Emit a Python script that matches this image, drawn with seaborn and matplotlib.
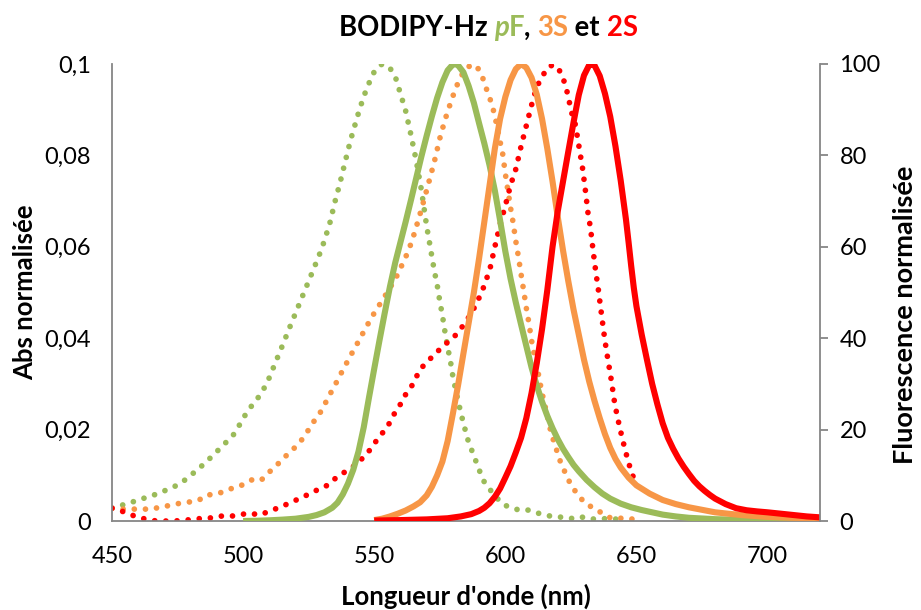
import numpy as np
import pandas as pd
import matplotlib
matplotlib.use("Agg")
import matplotlib.pyplot as plt
import seaborn as sns
from matplotlib.offsetbox import TextArea, HPacker, AnnotationBbox

# ---------------- data ----------------
# pF absorption (left axis)
pF_abs_nm = [450, 452, 456, 460, 464, 467, 470, 474, 477, 480, 483, 486, 489, 491, 494, 497,
             500, 503, 506, 509, 512, 515, 518, 521, 524, 527, 530, 533, 535, 537, 539, 541,
             544, 546, 548, 550, 552, 553, 555, 556, 558, 560, 562, 564, 566, 568, 570, 571,
             572, 573, 574, 575, 576, 577, 578, 579, 580, 582, 584, 586, 588, 590, 592, 594,
             596, 599, 602, 606, 609, 612, 615, 619, 623, 626, 629, 632, 636, 639, 643]
pF_abs = [0.0028, 0.0032, 0.0038, 0.0046, 0.0053, 0.0059, 0.0066, 0.0076, 0.0086, 0.0100,
          0.0114, 0.0130, 0.0146, 0.0158, 0.0175, 0.0193, 0.0225, 0.0250, 0.0272, 0.0300,
          0.0342, 0.0384, 0.0427, 0.0469, 0.0511, 0.0553, 0.0596, 0.0650, 0.0698, 0.0741,
          0.0788, 0.0834, 0.0893, 0.0929, 0.0958, 0.0983, 0.0995, 0.1000, 0.0995, 0.0991,
          0.0973, 0.0935, 0.0897, 0.0845, 0.0789, 0.0724, 0.0645, 0.0612, 0.0578, 0.0545,
          0.0517, 0.0481, 0.0450, 0.0413, 0.0380, 0.0352, 0.0316, 0.0262, 0.0214, 0.0172,
          0.0143, 0.0112, 0.0085, 0.0070, 0.0055, 0.0037, 0.0029, 0.0023, 0.0024, 0.0018,
          0.0013, 0.0009, 0.0008, 0.0005, 0.0009, 0.0004, 0.0005, 0.0005, 0.0004]

# 3S absorption (left axis)
S3_abs_nm = [450, 453, 458, 462, 465, 469, 472, 476, 480, 483, 486, 489, 492, 495, 499, 501,
             504, 507, 510, 512, 515, 517, 520, 523, 525, 527, 529, 531, 533, 535, 538, 541,
             544, 547, 550, 553, 556, 559, 561.5, 563, 565, 567, 569, 571, 573, 575, 577, 579,
             581, 583, 585, 587, 589, 591, 593, 595, 597, 598, 599, 600, 601, 602, 603, 604,
             605, 606, 607, 608, 609, 610, 611, 612, 613, 614, 615, 616, 617, 618, 619, 620,
             621.6, 623.4, 625.3, 627.6, 630, 633.6, 637, 640, 644, 647, 650]
S3_abs = [0.0028, 0.0026, 0.0026, 0.0026, 0.0026, 0.0031, 0.0034, 0.0039, 0.0042, 0.0045,
          0.0057, 0.0058, 0.0063, 0.0070, 0.0077, 0.0083, 0.0092, 0.0090, 0.0107, 0.0119,
          0.0133, 0.0147, 0.0162, 0.0182, 0.0200, 0.0218, 0.0233, 0.0254, 0.0276, 0.0297,
          0.0330, 0.0362, 0.0393, 0.0425, 0.0455, 0.0482, 0.0510, 0.0540, 0.0572, 0.0590,
          0.0624, 0.0662, 0.0703, 0.0745, 0.0788, 0.0837, 0.0878, 0.0913, 0.0946, 0.0972,
          0.0990, 0.0998, 0.0996, 0.0976, 0.0942, 0.0910, 0.0860, 0.0830, 0.0803, 0.0760,
          0.0722, 0.0685, 0.0652, 0.0612, 0.0578, 0.0540, 0.0504, 0.0466, 0.0433, 0.0395,
          0.0365, 0.0341, 0.0309, 0.0280, 0.0255, 0.0230, 0.0204, 0.0182, 0.0168, 0.0145,
          0.0121, 0.0099, 0.0075, 0.0059, 0.0041, 0.0028, 0.0017, 0.0007, 0.0006, 0.0006,
          0.0002]

# 2S absorption (left axis)
S2_abs_nm = [450, 451.5, 455, 458.5, 461.5, 465, 469, 473, 477, 481, 485, 488.5, 492, 496,
             500, 503, 506, 509.5, 513, 516, 519.5, 523, 526.5, 529, 532.5, 535.5, 539, 542,
             544.5, 547, 549.5, 552, 555, 557, 559.5, 561.5, 564, 566, 568, 571, 574, 576.5,
             579.5, 582.5, 584.5, 587, 589, 591, 592.5, 594, 596, 598, 600, 602, 604, 606,
             608, 610, 612, 614, 616, 618, 620, 622, 624, 625, 626.5, 627.5, 628.5, 629.5,
             630.5, 631.5, 632.5, 633.5, 634.5, 635.5, 636.5, 637.5, 638.5, 639.5, 640.5,
             641.5, 642.5, 643.5, 644.5, 645.5, 646.5, 648, 649.5, 650]
S2_abs = [0.0028, 0.0026, 0.0019, 0.0011, 0.0006, 0.0001, 0.0000, 0.0000, 0.0001, 0.0004,
          0.0006, 0.0007, 0.0011, 0.0011, 0.0015, 0.0017, 0.0013, 0.0020, 0.0028, 0.0035,
          0.0044, 0.0053, 0.0063, 0.0070, 0.0079, 0.0095, 0.0108, 0.0119, 0.0132, 0.0145,
          0.0165, 0.0185, 0.0205, 0.0229, 0.0250, 0.0273, 0.0292, 0.0315, 0.0335, 0.0353,
          0.0370, 0.0384, 0.0398, 0.0415, 0.0434, 0.0453, 0.0477, 0.0500, 0.0525, 0.0548,
          0.0600, 0.0649, 0.0690, 0.0735, 0.0770, 0.0820, 0.0865, 0.0910, 0.0950, 0.0972,
          0.0991, 0.0998, 0.0993, 0.0970, 0.0930, 0.0898, 0.0873, 0.0840, 0.0805, 0.0770,
          0.0725, 0.0675, 0.0640, 0.0590, 0.0545, 0.0505, 0.0460, 0.0415, 0.0375, 0.0340,
          0.0305, 0.0265, 0.0234, 0.0208, 0.0183, 0.0160, 0.0138, 0.0108, 0.0086, 0.0078]

# pF fluorescence (right axis)
pF_fluo_nm = [500, 505, 510, 515, 520, 525, 528, 531, 534, 536, 538, 540, 542, 544, 546, 548,
              550, 552, 554, 556, 558, 560, 562, 564, 566, 568, 570, 572, 574, 576, 578, 580,
              581, 582, 584, 586, 588, 590, 592, 594, 596, 598, 600, 602, 604, 606, 608, 610,
              612, 614, 616, 618, 620, 622, 624, 626, 628, 631, 634, 637, 640, 644, 648, 652,
              656, 660, 665, 670, 680, 690, 700, 710, 720]
pF_fluo = [0.0, 0.05, 0.15, 0.3, 0.5, 0.9, 1.3, 1.9, 2.9, 4.0, 5.8, 8.2, 11.2, 15.2, 20.5, 27.0,
           33.3, 39.5, 45.5, 51.3, 56.5, 61.0, 65.5, 70.2, 75.0, 79.8, 84.3, 88.6, 92.6, 96.0,
           98.6, 99.9, 100.0, 99.7, 98.2, 95.2, 91.5, 87.0, 82.6, 77.8, 72.3, 65.8, 59.0, 53.0,
           47.8, 43.0, 38.3, 33.6, 29.6, 26.1, 23.0, 20.3, 17.9, 15.8, 14.0, 12.3, 10.9, 9.0,
           7.4, 6.0, 4.9, 3.8, 3.0, 2.4, 1.9, 1.4, 1.0, 0.7, 0.4, 0.25, 0.18, 0.12, 0.1]

# 3S fluorescence (right axis)
S3_fluo_nm = [550, 553, 556, 559, 562, 565, 567.5, 570, 572, 574, 576, 578, 580, 582, 584, 586,
              588, 590, 592, 594, 596, 598, 600, 602, 604, 606, 608, 610, 612, 614, 616, 618,
              620, 622, 624, 626, 628, 630, 632, 634, 636, 638, 640, 642, 644, 647, 650, 655,
              660, 665, 670, 680, 690, 700, 710, 720]
S3_fluo = [0.2, 0.5, 1.0, 1.6, 2.3, 3.2, 4.1, 5.6, 7.5, 10.0, 13.0, 17.5, 23.5, 29.8, 36.6, 43.3,
           50.0, 57.5, 65.5, 73.5, 81.5, 88.0, 92.8, 96.5, 98.9, 100.0, 99.2, 97.0, 93.3, 88.0,
           81.5, 74.3, 66.5, 59.2, 52.5, 46.3, 40.8, 35.3, 30.5, 26.3, 22.5, 19.0, 16.0, 13.6,
           11.7, 9.5, 7.8, 6.0, 4.6, 3.7, 3.0, 1.9, 1.3, 0.9, 0.7, 0.6]

# 2S fluorescence (right axis)
S2_fluo_nm = [550, 560, 570, 578, 583, 587, 590, 592, 594, 596, 598, 600, 602, 604, 606, 608,
              610, 612, 614, 616, 618, 620, 622, 624, 626, 628, 630, 632, 633, 634, 636, 638,
              640, 642, 644, 646, 647, 648, 649, 650, 652, 654, 656, 658, 660, 662, 664, 666,
              668, 670, 672, 674, 676, 678, 680, 684, 688, 692, 696, 700, 705, 710, 715, 720]
S2_fluo = [0.1, 0.2, 0.35, 0.6, 1.0, 1.5, 2.2, 2.9, 3.9, 5.3, 7.1, 9.5, 12.0, 15.0, 18.2, 22.5,
           28.0, 34.6, 42.0, 50.5, 60.0, 67.8, 74.3, 80.8, 87.2, 93.2, 97.5, 99.8, 100.0, 99.7,
           97.4, 93.5, 88.5, 82.0, 74.5, 66.0, 61.0, 55.8, 51.0, 47.0, 40.8, 35.3, 30.0, 25.5,
           21.4, 18.2, 15.8, 13.7, 11.9, 10.3, 8.8, 7.6, 6.6, 5.7, 4.9, 3.7, 2.8, 2.35, 2.1,
           1.9, 1.6, 1.3, 1.0, 0.8]

x_ticks = [450, 500, 550, 600, 650, 700]
left_ticks = [0, 0.02, 0.04, 0.06, 0.08, 0.1]
left_labels = ["0", "0,02", "0,04", "0,06", "0,08", "0,1"]
right_ticks = [0, 20, 40, 60, 80, 100]

GREEN = "#9BBB59"
ORANGE = "#F79646"
RED = "#FF0000"
GREY = "#868686"

# ---------------- style ----------------
sns.set_theme(style="white")
plt.rcParams["font.family"] = ["Lato", "DejaVu Sans"]

fig = plt.figure(figsize=(9.21, 6.10), dpi=100)
ax = fig.add_axes([112 / 921, 1 - 521 / 610, (820 - 112) / 921, (521 - 64) / 610])
ax2 = ax.twinx()

dotted = dict(linestyle=(0, (0.01, 1.95)), dash_capstyle="round", linewidth=4.1)
solid = dict(linestyle="-", linewidth=4.4, solid_capstyle="butt", solid_joinstyle="round")

sns.lineplot(x=pF_abs_nm, y=pF_abs, ax=ax, color=GREEN, **dotted)
sns.lineplot(x=S3_abs_nm, y=S3_abs, ax=ax, color=ORANGE, **dotted)
sns.lineplot(x=S2_abs_nm, y=S2_abs, ax=ax, color=RED, **dotted)

sns.lineplot(x=pF_fluo_nm, y=pF_fluo, ax=ax2, color=GREEN, **solid)
sns.lineplot(x=S3_fluo_nm, y=S3_fluo, ax=ax2, color=ORANGE, **solid)
sns.lineplot(x=S2_fluo_nm, y=S2_fluo, ax=ax2, color=RED, **solid)

ax.set_xlim(450, 720)
ax.set_ylim(0, 0.1)
ax2.set_ylim(0, 100)

ax.set_xticks(x_ticks)
ax.set_xticklabels([str(v) for v in x_ticks])
ax.set_yticks(left_ticks)
ax.set_yticklabels(left_labels)
ax2.set_yticks(right_ticks)
ax2.set_yticklabels([str(v) for v in right_ticks])

for a in (ax, ax2):
    for s in a.spines.values():
        s.set_visible(False)
        s.set_color(GREY)
        s.set_linewidth(1.3)
ax.spines["left"].set_visible(True)
ax.spines["bottom"].set_visible(True)
ax2.spines["right"].set_visible(True)

ax.tick_params(axis="x", length=0, pad=18, labelsize=17, colors="black")
ax.tick_params(axis="y", length=0, pad=15, labelsize=17, colors="black")
ax2.tick_params(axis="y", length=6, width=1.3, color=GREY, pad=8, labelsize=17,
                labelcolor="black", direction="out")
ax.grid(False)
ax2.grid(False)

ax.set_xlabel("Longueur d'onde (nm)", fontsize=18.5, fontweight="bold", labelpad=12)
ax.set_ylabel("Abs normalisée", fontsize=18.5, fontweight="bold", labelpad=5)
ax2.set_ylabel("Fluorescence normalisée", fontsize=19.5, fontweight="bold")
ax2.yaxis.set_label_coords((893 - 112) / 708, (521 - 315) / 457)
ax.xaxis.label.set_color("black")
ax.yaxis.label.set_color("black")
ax2.yaxis.label.set_color("black")

# Title with coloured parts
tprops = dict(fontsize=19.8, fontweight="bold", family=["Lato", "DejaVu Sans"])
parts = [("BODIPY-Hz ", "black", "normal"), ("p", GREEN, "italic"), ("F", GREEN, "normal"),
         (", ", "black", "normal"), ("3S", ORANGE, "normal"), (" et ", "black", "normal"),
         ("2S", RED, "normal")]
areas = [TextArea(t, textprops=dict(color=c, style=st, **tprops)) for t, c, st in parts]
box = HPacker(children=areas, align="baseline", pad=0, sep=0)
ab = AnnotationBbox(box, (488 / 921, 1 - 28 / 610), xycoords="figure fraction",
                    box_alignment=(0.5, 0.5), frameon=False, pad=0)
fig.add_artist(ab)

fig.savefig("out.png", dpi=100)
